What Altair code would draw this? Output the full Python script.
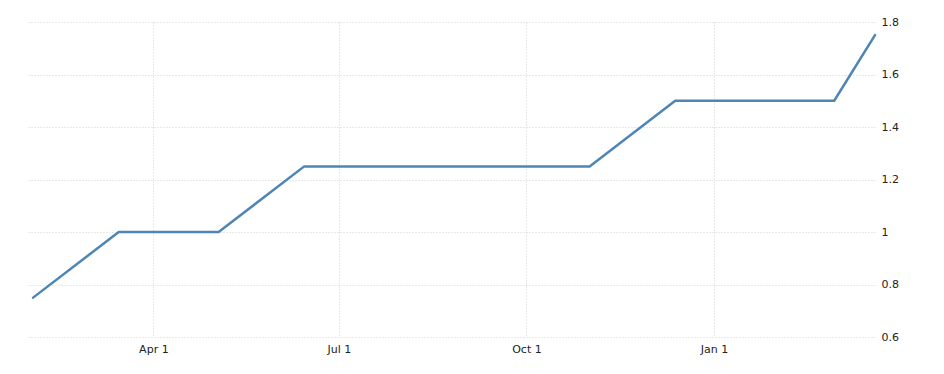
import altair as alt
import pandas as pd

dates = ["2017-02-01", "2017-03-15", "2017-05-03", "2017-06-14", "2017-07-26",
         "2017-09-20", "2017-11-01", "2017-12-13", "2018-03-01", "2018-03-21"]
rates = [0.75, 1.00, 1.00, 1.25, 1.25, 1.25, 1.25, 1.50, 1.50, 1.75]
x_ticks = ["2017-04-01", "2017-07-01", "2017-10-01", "2018-01-01"]
y_ticks = [0.6, 0.8, 1.0, 1.2, 1.4, 1.6, 1.8]

df = pd.DataFrame({"date": pd.to_datetime(dates), "rate": rates})

tick_vals = [alt.DateTime(year=int(d[:4]), month=int(d[5:7]), date=int(d[8:10])) for d in x_ticks]

chart = alt.Chart(df).mark_line(color="#4d85b7", strokeWidth=2.5, strokeCap="round").encode(
    x=alt.X("date:T",
            scale=alt.Scale(domain=[alt.DateTime(year=2017, month=1, date=29),
                                    alt.DateTime(year=2018, month=3, date=21)]),
            axis=alt.Axis(values=tick_vals, title=None,
                          labelExpr="timeFormat(datum.value, '%b %-d')",
                          grid=True, gridColor="#d0d0d0", gridDash=[1, 2],
                          domain=False, ticks=False, labelPadding=6,
                          labelFont="DejaVu Sans", labelFontSize=11, labelColor="#222")),
    y=alt.Y("rate:Q",
            scale=alt.Scale(domain=[0.6, 1.8], nice=False, zero=False),
            axis=alt.Axis(orient="right", values=y_ticks, title=None,
                          labelExpr="datum.value == 1 ? '1' : format(datum.value, '.1f')",
                          grid=True, gridColor="#d0d0d0", gridDash=[1, 2],
                          domain=False, ticks=False, labelPadding=6,
                          labelFont="DejaVu Sans", labelFontSize=11, labelColor="#222")),
).properties(
    width=848, height=315,
    autosize=alt.AutoSizeParams(type="none"),
    padding={"left": 19, "top": 14, "right": 61, "bottom": 29},
).configure_view(stroke=None)

chart.save("out.html", embed_options={"renderer": "svg", "actions": False})
